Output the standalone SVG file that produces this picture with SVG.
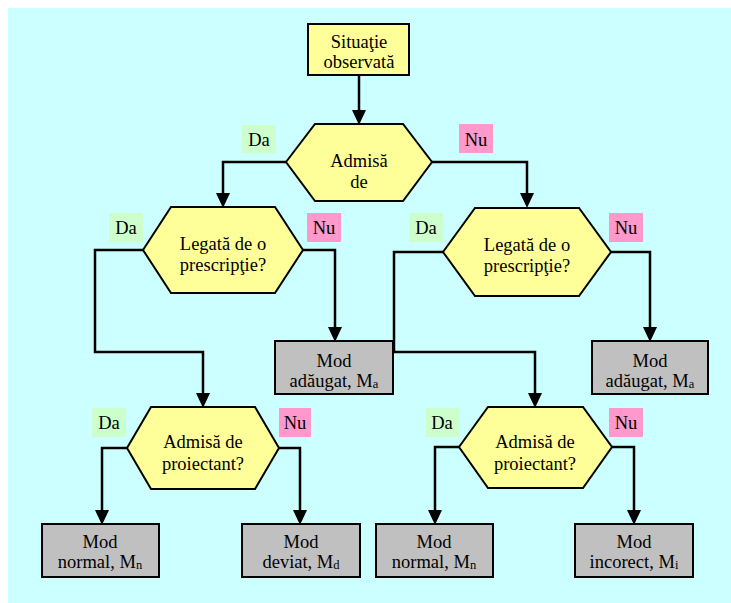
<svg xmlns="http://www.w3.org/2000/svg" width="731" height="603" viewBox="0 0 731 603">
<style>
text{font-family:'Liberation Serif','Times New Roman',serif;font-size:18.5px;fill:#000;text-anchor:middle}
.hex{fill:#FFFF99;stroke:#000;stroke-width:2}
.start{fill:#FFFF99;stroke:#000;stroke-width:2}
.box{fill:#C0C0C0;stroke:#000;stroke-width:2}
.da{fill:#CCFFCC}
.nu{fill:#FF99CC}
.sub{font-size:12.5px}
.conn{fill:none;stroke:#000;stroke-width:2.5}
</style>
<rect x="8" y="8" width="723" height="595" fill="#CCFFFF"/>
<g id="connectors">
<path class="conn" d="M359,75 V110"/>
<path class="conn" d="M286,162 H223 V193"/>
<path class="conn" d="M432,162 H527 V193"/>
<path class="conn" d="M143,250 H95 V352 H203 V393"/>
<path class="conn" d="M303,250 H335 V327"/>
<path class="conn" d="M443,252 H394 V352 H535 V393"/>
<path class="conn" d="M611,252 H650 V327"/>
<path class="conn" d="M127,448 H102 V510"/>
<path class="conn" d="M279,448 H300 V510"/>
<path class="conn" d="M459,447 H435 V510"/>
<path class="conn" d="M612,447 H634 V510"/>
<g fill="#000">
<path d="M352,110 H366 L359,125 Z"/>
<path d="M216,193 H230 L223,208 Z"/>
<path d="M520,193 H534 L527,208 Z"/>
<path d="M196,393 H210 L203,408 Z"/>
<path d="M328,327 H342 L335,342 Z"/>
<path d="M528,393 H542 L535,408 Z"/>
<path d="M643,327 H657 L650,342 Z"/>
<path d="M95,510 H109 L102,525 Z"/>
<path d="M293,510 H307 L300,525 Z"/>
<path d="M428,510 H442 L435,525 Z"/>
<path d="M627,510 H641 L634,525 Z"/>
</g>
</g>
<g id="start">
<rect class="start" x="308" y="24" width="101" height="51"/>
<text x="359" y="48">Situaţie</text>
<text x="359" y="68">observată</text>
</g>
<g id="dec1">
<polygon class="hex" points="286,162 315,124 403,124 432,162 403,201 315,201"/>
<text x="359" y="167">Admisă</text>
<text x="359" y="188">de</text>
</g>
<g id="dec1-da"><rect class="da" x="242" y="125" width="34" height="28"/><text x="259" y="146">Da</text></g>
<g id="dec1-nu"><rect class="nu" x="459" y="124" width="34" height="29"/><text x="476" y="146">Nu</text></g>
<g id="dec2">
<polygon class="hex" points="143,250 171,207 275,207 303,250 275,293 171,293"/>
<text x="223" y="250">Legată de o</text>
<text x="223" y="271">prescripţie?</text>
</g>
<g id="dec2-da"><rect class="da" x="109" y="213" width="34" height="29"/><text x="126" y="234">Da</text></g>
<g id="dec2-nu"><rect class="nu" x="307" y="213" width="34" height="29"/><text x="324" y="234">Nu</text></g>
<g id="dec3">
<polygon class="hex" points="443,252 475,208 579,208 611,252 579,296 475,296"/>
<text x="527" y="251">Legată de o</text>
<text x="527" y="272">prescripţie?</text>
</g>
<g id="dec3-da"><rect class="da" x="409" y="213" width="34" height="29"/><text x="426" y="234">Da</text></g>
<g id="dec3-nu"><rect class="nu" x="609" y="213" width="34" height="29"/><text x="626" y="234">Nu</text></g>
<g id="dec4">
<polygon class="hex" points="127,448 151,407 255,407 279,448 255,489 151,489"/>
<text x="203" y="448">Admisă de</text>
<text x="203" y="470">proiectant?</text>
</g>
<g id="dec4-da"><rect class="da" x="92" y="408" width="34" height="29"/><text x="109" y="429">Da</text></g>
<g id="dec4-nu"><rect class="nu" x="279" y="408" width="32" height="29"/><text x="295" y="429">Nu</text></g>
<g id="dec5">
<polygon class="hex" points="459,447 488,407 583,407 612,447 583,488 488,488"/>
<text x="535" y="448">Admisă de</text>
<text x="535" y="470">proiectant?</text>
</g>
<g id="dec5-da"><rect class="da" x="426" y="408" width="33" height="29"/><text x="442" y="429">Da</text></g>
<g id="dec5-nu"><rect class="nu" x="609" y="408" width="34" height="29"/><text x="626" y="429">Nu</text></g>
<g id="added1">
<rect class="box" x="275" y="341" width="118" height="53"/>
<text x="334" y="367">Mod</text>
<text x="334" y="387">adăugat, M<tspan class="sub" dy="1">a</tspan></text>
</g>
<g id="added2">
<rect class="box" x="592" y="341" width="116" height="53"/>
<text x="650" y="367">Mod</text>
<text x="650" y="387">adăugat, M<tspan class="sub" dy="1">a</tspan></text>
</g>
<g id="normal1">
<rect class="box" x="42" y="524" width="117" height="53"/>
<text x="100" y="548">Mod</text>
<text x="100" y="568">normal, M<tspan class="sub" dy="1">n</tspan></text>
</g>
<g id="deviat">
<rect class="box" x="242" y="524" width="118" height="53"/>
<text x="301" y="548">Mod</text>
<text x="301" y="568">deviat, M<tspan class="sub" dy="1">d</tspan></text>
</g>
<g id="normal2">
<rect class="box" x="376" y="524" width="117" height="53"/>
<text x="434" y="548">Mod</text>
<text x="434" y="568">normal, M<tspan class="sub" dy="1">n</tspan></text>
</g>
<g id="incorect">
<rect class="box" x="575" y="524" width="118" height="53"/>
<text x="634" y="548">Mod</text>
<text x="634" y="568">incorect, M<tspan class="sub" dy="1">i</tspan></text>
</g>
</svg>
